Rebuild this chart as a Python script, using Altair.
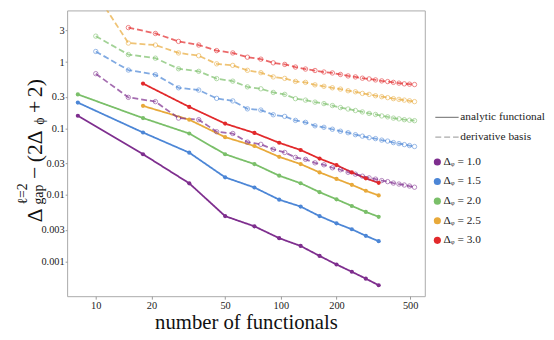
import altair as alt
import pandas as pd

# number of functionals
n_analytic = [8, 18, 32, 50, 72, 98, 128, 162, 200, 242, 288, 338]
n_analytic_late = [18, 32, 50, 72, 98, 128, 162, 200, 242, 288, 338]
n_deriv = [10, 15, 21, 28, 36, 45, 55, 66, 78, 91, 105, 120, 136, 153, 171,
           190, 210, 231, 253, 276, 300, 325, 351, 378, 406, 435, 465, 496, 528]
n_deriv_late = n_deriv[1:]

delta_phi = ["1.0", "1.5", "2.0", "2.5", "3.0"]
series_labels = ["Δᵩ = 1.0", "Δᵩ = 1.5", "Δᵩ = 2.0", "Δᵩ = 2.5", "Δᵩ = 3.0"]
series_colors = ["#7E2E8E", "#4C86D6", "#7ABF69", "#E8A93A", "#E2292B"]
basis_labels = ["analytic functional", "derivative basis"]

# analytic functional results
a_10 = [0.156, 0.0411, 0.0150, 0.00481, 0.00338, 0.00224, 0.00171, 0.00121, 0.000899, 0.000700, 0.000551, 0.000438]
a_15 = [0.246, 0.0872, 0.0434, 0.01845, 0.01297, 0.00851, 0.00670, 0.00481, 0.00375, 0.00305, 0.00243, 0.00202]
a_20 = [0.327, 0.1438, 0.0843, 0.0411, 0.0292, 0.01955, 0.01503, 0.01104, 0.00861, 0.00684, 0.00557, 0.00470]
a_25 = [0.2196, 0.136, 0.0743, 0.0546, 0.0375, 0.0292, 0.0219, 0.01746, 0.01422, 0.01158, 0.00986]
a_30 = [0.476, 0.212, 0.1187, 0.0860, 0.0611, 0.0476, 0.0353, 0.0282, 0.0219, 0.01783, 0.01523]

# derivative basis results
d_10 = [0.670, 0.295, 0.2545, 0.1437, 0.136, 0.0896, 0.0843, 0.0626, 0.0579, 0.0488, 0.0437, 0.0368, 0.0344, 0.0305,
        0.0285, 0.0257, 0.0240, 0.0220, 0.0206, 0.0192, 0.0181, 0.01734, 0.01648, 0.0159, 0.01513, 0.01462, 0.01413,
        0.01365, 0.0131]
d_15 = [1.447, 0.760, 0.648, 0.411, 0.380, 0.285, 0.2606, 0.198, 0.190, 0.1614, 0.1524, 0.1328, 0.124, 0.110,
        0.1045, 0.0977, 0.0912, 0.0866, 0.0809, 0.0769, 0.0730, 0.0706, 0.0670, 0.0648, 0.0615, 0.0594, 0.0574,
        0.0555, 0.0537]
d_20 = [2.46, 1.301, 1.147, 0.795, 0.727, 0.565, 0.517, 0.425, 0.397, 0.350, 0.327, 0.282, 0.268, 0.250,
        0.2376, 0.222, 0.207, 0.197, 0.187, 0.178, 0.169, 0.163, 0.155, 0.150, 0.1437, 0.140, 0.136, 0.1337, 0.1315]
d_25 = [11.0, 1.936, 1.808, 1.375, 1.249, 0.943, 0.893, 0.753, 0.694, 0.599, 0.569, 0.513, 0.496, 0.455,
        0.4325, 0.411, 0.393, 0.371, 0.358, 0.338, 0.327, 0.312, 0.302, 0.292, 0.282, 0.275, 0.268, 0.262, 0.2545]
d_30 = [3.31, 2.70, 2.05, 1.81, 1.49, 1.375, 1.187, 1.108, 0.976, 0.924, 0.843, 0.787, 0.748, 0.710, 0.687,
        0.652, 0.620, 0.599, 0.573, 0.559, 0.540, 0.522, 0.510, 0.496, 0.483, 0.471, 0.466, 0.460]

x_ticks = [10, 20, 50, 100, 200, 500]
y_ticks = [3, 1, 0.3, 0.1, 0.03, 0.01, 0.003, 0.001]

analytic_sets = [(n_analytic, a_10), (n_analytic, a_15), (n_analytic, a_20),
                 (n_analytic_late, a_25), (n_analytic_late, a_30)]
deriv_sets = [(n_deriv, d_10), (n_deriv, d_15), (n_deriv, d_20), (n_deriv, d_25), (n_deriv_late, d_30)]

rows = []
for code, lab, (ns, vs) in zip(delta_phi, series_labels, analytic_sets):
    for n, v in zip(ns, vs):
        rows.append({"n": n, "value": v, "series": code, "legend_label": lab, "basis": basis_labels[0]})
for code, lab, (ns, vs) in zip(delta_phi, series_labels, deriv_sets):
    for n, v in zip(ns, vs):
        rows.append({"n": n, "value": v, "series": code, "legend_label": lab, "basis": basis_labels[1]})
df = pd.DataFrame(rows)
df_a = df[df["basis"] == basis_labels[0]]
df_d = df[df["basis"] == basis_labels[1]]

SERIF = "Liberation Serif"

x_enc = alt.X("n:Q",
              scale=alt.Scale(type="log", domain=[7, 600], nice=False),
              axis=alt.Axis(values=x_ticks, format="d", title="number of functionals",
                            titleFont=SERIF, titleFontSize=21, titleFontWeight="normal",
                            titleColor="#111", titleY=33, titleBaseline="alphabetic",
                            labelPadding=1, tickSize=3))
y_enc = alt.Y("value:Q",
              scale=alt.Scale(type="log", domain=[0.0003, 6], nice=False),
              axis=alt.Axis(values=y_ticks, format="~g", title=None, tickSize=2, labelPadding=1))

stroke_scale = alt.Scale(domain=delta_phi, range=series_colors)

lines = alt.Chart(df).mark_line(clip=True, strokeWidth=1.8).encode(
    x=x_enc, y=y_enc,
    stroke=alt.Stroke("series:N", scale=stroke_scale, legend=None),
    strokeDash=alt.StrokeDash(
        "basis:N",
        scale=alt.Scale(domain=basis_labels, range=[[1, 0], [6, 3]]),
        legend=alt.Legend(title=None, orient="none", legendX=373, legendY=96,
                          symbolType="stroke", symbolSize=560, symbolStrokeWidth=1.3,
                          symbolStrokeColor="#888", labelOffset=1, rowPadding=2,
                          labelFont=SERIF, labelFontSize=11.5, labelColor="#222")),
    opacity=alt.Opacity("basis:N", scale=alt.Scale(domain=basis_labels, range=[1.0, 0.7]), legend=None),
)

pts_d = alt.Chart(df_d).mark_point(filled=False, size=20, strokeWidth=0.8, clip=True, opacity=0.7).encode(
    x=x_enc, y=y_enc,
    stroke=alt.Stroke("series:N", scale=stroke_scale, legend=None),
)

pts_a = alt.Chart(df_a).mark_point(filled=True, size=18, clip=True, opacity=1).encode(
    x=x_enc, y=y_enc,
    color=alt.Color("legend_label:N", scale=alt.Scale(domain=series_labels, range=series_colors),
                    legend=alt.Legend(title=None, orient="none", legendX=370, legendY=148,
                                      symbolType="circle", symbolSize=52, labelOffset=0.5,
                                      rowPadding=6.9, labelFont=SERIF, labelFontSize=11.5,
                                      labelColor="#222", symbolOpacity=1)),
)

# y-axis title built from pieces (sub/superscripts)
one = pd.DataFrame({"k": [0]})


def piece(txt, px, py, size):
    return alt.Chart(one).mark_text(text=txt, angle=270, align="left", baseline="alphabetic",
                                    font=SERIF, fontSize=size, color="#111").encode(
        x=alt.value(px), y=alt.value(py))


MAIN = 22
SUB = 14
title_parts = [
    piece("Δ", -26, 215, MAIN),
    piece("ℓ=2", -41, 197, SUB),
    piece("gap", -24, 197, SUB),
    piece("−", -26, 171, MAIN),
    piece("(2Δ", -26, 154, MAIN),
    piece("ϕ", -23, 116, SUB),
    piece("+", -26, 104, MAIN),
    piece("2)", -26, 88, MAIN),
]

chart = alt.layer(lines, pts_d, pts_a, *title_parts).properties(
    width=363, height=290,
    autosize=alt.AutoSizeParams(type="none"),
    padding={"left": 60, "top": 0, "right": 123, "bottom": 42},
).configure_view(
    stroke="#aaaaaa", strokeWidth=1
).configure_axis(
    domain=False, grid=False, tickColor="#999999",
    labelFont=SERIF, labelFontSize=10.5, labelColor="#222"
)

chart.save("out.html", embed_options={"renderer": "svg", "actions": False})
